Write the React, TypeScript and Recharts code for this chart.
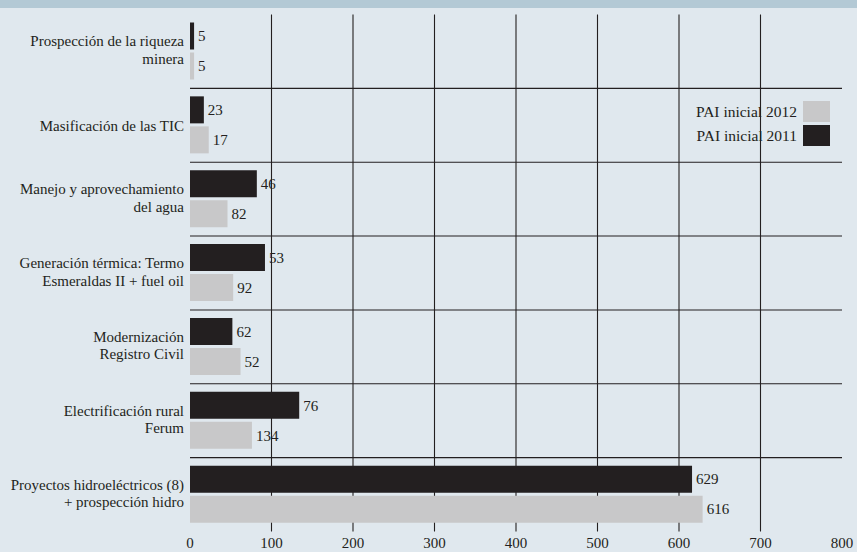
import React from 'react';
import { BarChart, Bar, XAxis, YAxis, CartesianGrid, LabelList, Legend } from 'recharts';

const categories = [
  'Prospección de la riqueza\nminera',
  'Masificación de las TIC',
  'Manejo y aprovechamiento\ndel agua',
  'Generación térmica: Termo\nEsmeraldas II + fuel oil',
  'Modernización\nRegistro Civil',
  'Electrificación rural\nFerum',
  'Proyectos hidroeléctricos (8)\n+ prospección hidro',
];

// printed value labels
const labels2011 = [5, 23, 46, 53, 62, 76, 629];
const labels2012 = [5, 17, 82, 92, 52, 134, 616];

// bar lengths as drawn in the picture
const bars2011 = [5, 17, 82, 92, 52, 134, 616];
const bars2012 = [5, 23, 46, 53, 62, 76, 629];

const xTicks = [0, 100, 200, 300, 400, 500, 600, 700, 800];

const series2011Name = 'PAI inicial 2011';
const series2012Name = 'PAI inicial 2012';

const BLACK = '#231f20';
const GRAY = '#c8c8c9';
const FONT = 'Liberation Serif, serif';

const data = categories.map((name, i) => ({
  name,
  v2011: bars2011[i],
  v2012: bars2012[i],
  l2011: labels2011[i],
  l2012: labels2012[i],
}));

const CategoryTick = (props: any) => {
  const { x, y, payload } = props;
  const lines = String(payload.value).split('\n');
  const lh = 17.5;
  const first = lines.length === 1 ? 6 : -5;
  return (
    <text x={x} y={y} textAnchor="end" fill={BLACK} style={{ fontSize: 15, fontFamily: FONT }}>
      {lines.map((l, i) => (
        <tspan key={i} x={x} dy={i === 0 ? first : lh}>
          {l}
        </tspan>
      ))}
    </text>
  );
};

const renderLegend = (props: any) => {
  const items = (props.payload || []).slice().reverse();
  return (
    <div style={{ display: 'flex', flexDirection: 'column', alignItems: 'flex-end', fontFamily: FONT }}>
      {items.map((it: any, i: number) => (
        <div key={i} style={{ display: 'flex', alignItems: 'center', height: 21, marginBottom: 2.5 }}>
          <span style={{ fontSize: 15.5, color: BLACK, marginRight: 6, lineHeight: '21px' }}>{it.value}</span>
          <span style={{ display: 'inline-block', width: 27, height: 21, background: it.color }} />
        </div>
      ))}
    </div>
  );
};

export default function App() {
  return (
    <div
      style={{
        position: 'absolute',
        left: 0,
        top: 0,
        width: 857,
        height: 552,
        background: '#e0e8ee',
        overflow: 'hidden',
        fontFamily: FONT,
      }}
    >
      <style>{`svg text { font-family: 'Liberation Serif', serif; }`}</style>
      <div style={{ position: 'absolute', left: 0, top: 0, width: 857, height: 7.7, background: '#b3c9d5' }} />
      <div style={{ position: 'absolute', left: 0, top: 0 }}>
        <BarChart
          width={857}
          height={552}
          data={data}
          layout="vertical"
          margin={{ top: 14.5, right: 15, bottom: 0, left: 0 }}
          barSize={27}
          barGap={3}
          style={{ fontFamily: FONT }}
        >
          <CartesianGrid
            stroke={BLACK}
            strokeWidth={1.1}
            fill="none"
            verticalValues={xTicks.slice(1, -1)}
            horizontalCoordinatesGenerator={({ offset }: any) =>
              categories.slice(1).map((_, i) => offset.top + ((i + 1) * offset.height) / categories.length)
            }
          />
          <XAxis
            type="number"
            domain={[0, 800]}
            ticks={xTicks}
            interval={0}
            axisLine={false}
            tickLine={false}
            tickSize={0}
            tickMargin={6}
            height={20.5}
            tick={{ fill: BLACK, fontSize: 15, style: { fontFamily: FONT } }}
          />
          <YAxis
            type="category"
            dataKey="name"
            width={190}
            axisLine={false}
            tickLine={false}
            tickSize={0}
            tickMargin={6}
            interval={0}
            tick={<CategoryTick />}
          />
          <Legend
            layout="horizontal"
            verticalAlign="middle"
            align="center"
            wrapperStyle={{ top: 101, left: 680, width: 150, height: 46 }}
            content={renderLegend}
          />
          <Bar dataKey="v2011" name={series2011Name} fill={BLACK} isAnimationActive={false}>
            <LabelList dataKey="l2011" position="right" offset={4} fill={BLACK} fontSize={15} style={{ fontFamily: FONT }} />
          </Bar>
          <Bar dataKey="v2012" name={series2012Name} fill={GRAY} isAnimationActive={false}>
            <LabelList dataKey="l2012" position="right" offset={4} fill={BLACK} fontSize={15} style={{ fontFamily: FONT }} />
          </Bar>
        </BarChart>
      </div>
    </div>
  );
}
